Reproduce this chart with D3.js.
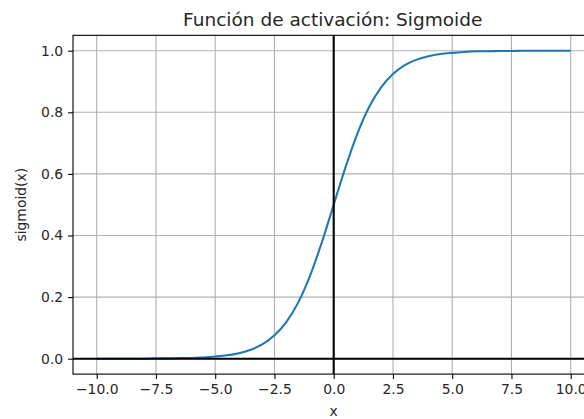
<!DOCTYPE html>
<html>
<head>
<meta charset="utf-8">
<script src="https://cdn.jsdelivr.net/npm/d3@7"></script>
<style>
  html, body { margin: 0; padding: 0; background: #fff; }
  svg text { font-family: 'DejaVu Sans', sans-serif; fill: #262626; }
</style>
</head>
<body>
<script>

/*
 * Sigmoid values.
 */
var xValues = [-10, -9.5, -9, -8.5, -8, -7.5, -7, -6.5, -6, -5.5, -5, -4.5, -4, -3.5, -3, -2.5, -2, -1.5, -1, -0.5,
  0, 0.5, 1, 1.5, 2, 2.5, 3, 3.5, 4, 4.5, 5, 5.5, 6, 6.5, 7, 7.5, 8, 8.5, 9, 9.5, 10];
var yValues = [0.000, 0.000, 0.000, 0.000, 0.000, 0.001, 0.001, 0.002, 0.002, 0.004, 0.007, 0.011, 0.018, 0.029, 0.047, 0.076, 0.119, 0.182, 0.269, 0.378,
  0.500, 0.622, 0.731, 0.818, 0.881, 0.924, 0.953, 0.971, 0.982, 0.989, 0.993, 0.996, 0.998, 0.998, 0.999, 0.999, 1.000, 1.000, 1.000, 1.000, 1.000];
var xTicks = [-10, -7.5, -5, -2.5, 0, 2.5, 5, 7.5, 10];
var yTicks = [0, 0.2, 0.4, 0.6, 0.8, 1.0];

var title = 'Función de activación: Sigmoide';
var xLabel = 'x';
var yLabel = 'sigmoid(x)';

// Figure size and plot frame.
var width = 584, height = 419;
var frame = { left: 73, right: 594.4, top: 35.3, bottom: 374.1 };

var svg = d3.select('body').append('svg')
  .attr('width', width)
  .attr('height', height);

// Scales (matplotlib style 5% margins).
var x = d3.scaleLinear().domain([-11, 11]).range([frame.left, frame.right]);
var y = d3.scaleLinear().domain([-0.05, 1.05]).range([frame.bottom, frame.top]);

var fmt = function(d) { return d3.format('.1f')(d).replace('-', '\u2212'); };

// Grid.
var grid = svg.append('g').attr('stroke', '#b0b0b0').attr('stroke-width', 1.1);
grid.selectAll('line.gx').data(xTicks).enter().append('line')
  .attr('x1', x).attr('x2', x)
  .attr('y1', frame.top).attr('y2', frame.bottom);
grid.selectAll('line.gy').data(yTicks).enter().append('line')
  .attr('x1', frame.left).attr('x2', frame.right)
  .attr('y1', y).attr('y2', y);

// Sigmoid curve.
var points = xValues.map(function(d, i) { return [d, yValues[i]]; });
svg.append('path')
  .datum(points)
  .attr('fill', 'none')
  .attr('stroke', '#1f77b4')
  .attr('stroke-width', 2.08)
  .attr('d', d3.line()
    .x(function(d) { return x(d[0]); })
    .y(function(d) { return y(d[1]); })
    .curve(d3.curveMonotoneX));

// Reference lines at x = 0 and y = 0.
svg.append('line')
  .attr('x1', frame.left).attr('x2', frame.right)
  .attr('y1', y(0)).attr('y2', y(0))
  .attr('stroke', '#000').attr('stroke-width', 2.08);
svg.append('line')
  .attr('x1', x(0)).attr('x2', x(0))
  .attr('y1', frame.top).attr('y2', frame.bottom)
  .attr('stroke', '#000').attr('stroke-width', 2.08);

// Axes.
var xAxis = svg.append('g')
  .attr('transform', 'translate(0,' + frame.bottom + ')')
  .call(d3.axisBottom(x).tickValues(xTicks).tickFormat(fmt).tickSize(4.9).tickPadding(4.9));
var yAxis = svg.append('g')
  .attr('transform', 'translate(' + frame.left + ',0)')
  .call(d3.axisLeft(y).tickValues(yTicks).tickFormat(fmt).tickSize(4.9).tickPadding(4.9));

[xAxis, yAxis].forEach(function(a) {
  a.select('.domain').remove();
  a.selectAll('line').attr('stroke', '#000').attr('stroke-width', 1.1);
  a.selectAll('text')
    .attr('fill', '#262626')
    .style('font-family', "'DejaVu Sans', sans-serif")
    .style('font-size', '13.9px');
});

// Frame spines.
svg.append('rect')
  .attr('x', frame.left).attr('y', frame.top)
  .attr('width', frame.right - frame.left)
  .attr('height', frame.bottom - frame.top)
  .attr('fill', 'none')
  .attr('stroke', '#000')
  .attr('stroke-width', 1.1);

// Title and axis labels.
var cx = (frame.left + frame.right) / 2;
svg.append('text')
  .attr('x', cx - 1).attr('y', 26)
  .attr('text-anchor', 'middle')
  .style('font-size', '18.5px')
  .text(title);
svg.append('text')
  .attr('x', cx).attr('y', 416)
  .attr('text-anchor', 'middle')
  .style('font-size', '13.9px')
  .text(xLabel);
svg.append('text')
  .attr('transform', 'translate(26,' + ((frame.top + frame.bottom) / 2) + ') rotate(-90)')
  .attr('text-anchor', 'middle')
  .style('font-size', '13.9px')
  .text(yLabel);

</script>
</body>
</html>
